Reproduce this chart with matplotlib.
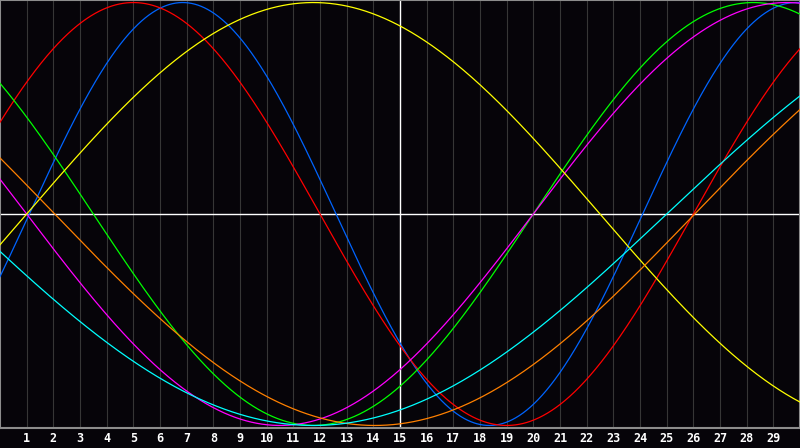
import numpy as np
import matplotlib
matplotlib.use("Agg")
import matplotlib.pyplot as plt

# biorhythm cycles: length in days and the day where the curve crosses zero going up
cycle_names = ["physical", "emotional", "intellectual", "intuitive", "aesthetic", "awareness", "spiritual"]
cycle_days = [23, 28, 33, 38, 43, 48, 53]
rise_day = [1.1, 26.0, 20.0, 20.0, 1.0, 26.05, 25.0]
cycle_colors = ["#0064ff", "#ff0000", "#00ff00", "#ff00ff", "#ffff00", "#ff8000", "#00ffff"]

day_labels = [str(d) for d in range(1, 30)]
today = 15

bg = "#060409"

fig = plt.figure(figsize=(8, 4.48), dpi=100, facecolor=bg)
ax = fig.add_axes([0, 20 / 448, 1, 428 / 448])
ax.set_facecolor(bg)
ax.set_xlim(0, 30)
ax.set_ylim(-1.012, 1.012)

# day grid
for d in range(1, 30):
    ax.axvline(d, color="#363636", lw=0.8, zorder=1)
ax.axvline(today, color="white", lw=1.0, zorder=2)
ax.axhline(0, color="white", lw=1.0, zorder=2)

t = np.linspace(0, 30, 1500)
for name, p, r, c in zip(cycle_names, cycle_days, rise_day, cycle_colors):
    ax.plot(t, np.sin(2 * np.pi * (t - r) / p), color=c, lw=0.9, zorder=3)

for s in ax.spines.values():
    s.set_color("#8c8c8c")
    s.set_linewidth(1.5)

ax.set_xticks(range(1, 30))
ax.set_xticklabels(day_labels, family="DejaVu Sans Mono", fontweight="bold")
ax.tick_params(axis="x", length=0, pad=3, labelsize=8.5, labelcolor="white")
ax.set_yticks([])

fig.savefig("out.png", dpi=100, facecolor=bg)
